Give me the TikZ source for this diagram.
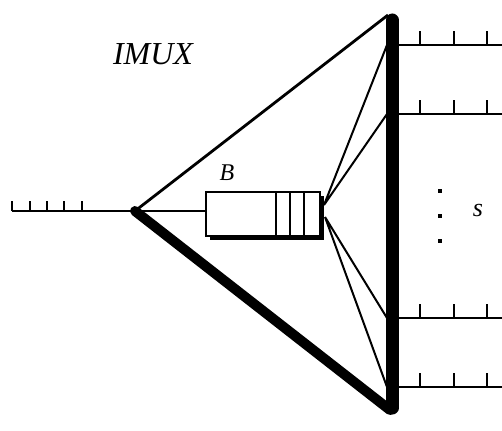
\documentclass[tikz,border=0pt]{standalone}
\usepackage{fontspec}
\setmainfont{Liberation Serif}
\usepackage{tkz-euclide}

\begin{document}
\begin{tikzpicture}[x=1pt,y=-1pt,
  thin line/.style={line width=2pt,color=black},
  wire/.style={line width=2.8pt,color=black},
  bus/.style={line width=13pt,line cap=round,color=black},
  fat edge/.style={line width=10pt,line cap=round,color=black},
  label text/.style={font=\itshape,inner sep=0pt}]
\useasboundingbox (0,0) rectangle (502,430);

\tkzDefPoints{135/211/V,12/211/In,206/211/Bl,388/15/Tp,390/410/Bt,392/20/Rt,392/408/Rb}
\tkzDefPoints{324/205/Fu,325/217/Fd}
\tkzDefPoints{387/45/P1,387/114/P2,387/318/P3,387/387/P4}
\tkzDefPoints{398/45/O1,502/45/E1,398/114/O2,502/114/E2}
\tkzDefPoints{398/318/O3,502/318/E3,398/387/O4,502/387/E4}

% triangle sides and bus
\draw[wire] (V) -- (Tp);
\draw[fat edge] (V) -- (Bt);
\draw[bus] (Rt) -- (Rb);

% input line with cells
\draw[wire] (In) -- (V);
\foreach \x in {12,30,47,64,82}
  \draw[wire] (\x,211) -- (\x,201);
\draw[thin line] (V) -- (Bl);

% buffer B
\fill (210,196) rectangle (324,240);
\draw[thin line,fill=white] (206,192) coordinate (Bx) rectangle (320,236);
\foreach \x in {276,290,304}
  \draw[thin line] (\x,192) -- (\x,236);
\node[label text,font=\itshape\fontsize{24}{24}\selectfont] (lb) at (227,173) {B};

% fan to the outputs
\draw[thin line] (Fu) -- (P1) (Fu) -- (P2);
\draw[thin line] (Fd) -- (P3) (Fd) -- (P4);

% output lines
\draw[wire] (O1) -- (E1) (O2) -- (E2) (O3) -- (E3) (O4) -- (E4);
\foreach \y in {45,114,318,387}
  \foreach \x in {420,454,487}
    \draw[wire] (\x,\y) -- (\x,\y-14);

% dots and s
\foreach \y in {191,216,241}
  \fill (438,\y-2) rectangle (442,\y+2);
\node[label text,font=\itshape\fontsize{26}{26}\selectfont] (ls) at (478,211) {s};

\node[label text,font=\itshape\fontsize{32}{32}\selectfont] (title) at (153,54) {IMUX};
\end{tikzpicture}
\end{document}
